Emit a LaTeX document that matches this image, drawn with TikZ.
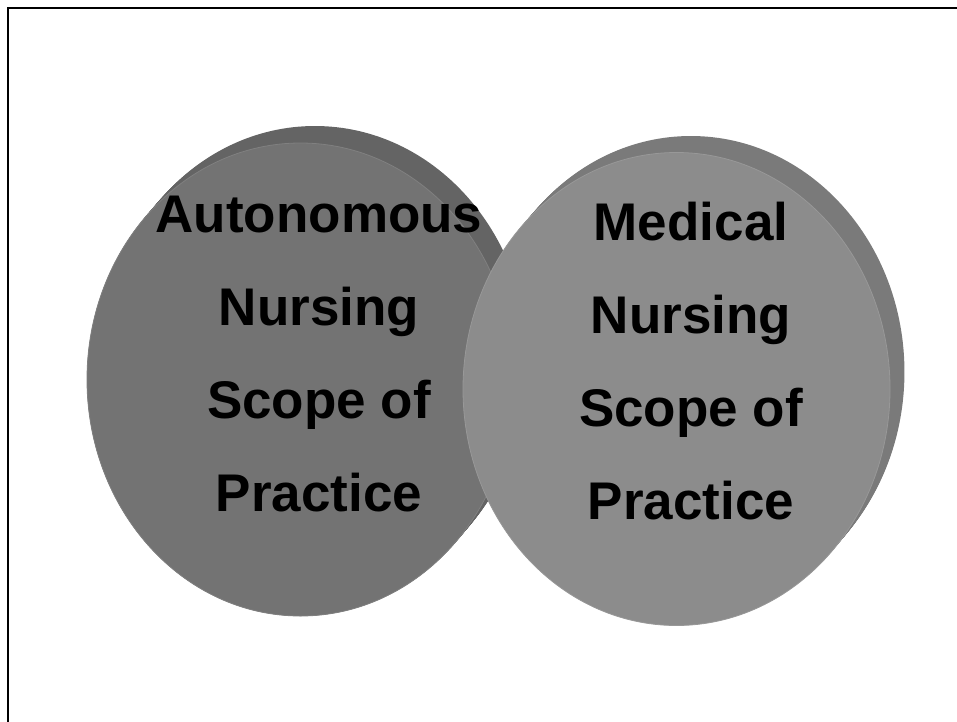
\documentclass[tikz,border=0pt]{standalone}
\usepackage{fontspec}
\setmainfont{Liberation Sans}
\usetikzlibrary{shapes.geometric}
\definecolor{leftface}{HTML}{737373}
\definecolor{leftside}{HTML}{646464}
\definecolor{leftrim}{HTML}{808080}
\definecolor{rightface}{HTML}{8C8C8C}
\definecolor{rightside}{HTML}{7A7A7A}
\definecolor{rightrim}{HTML}{989898}
\begin{document}
\begin{tikzpicture}[x=1pt,y=-1pt,
  face/.style={ellipse,inner sep=0pt,minimum width=427pt,minimum height=473pt,line width=0.8pt},
  txt/.style={align=center,text=black,font=\fontsize{53}{92.7}\selectfont\bfseries}]
\clip (0,0) rectangle (957,721);
\draw[line width=2pt] (8,8) rectangle (990,750);
% left disc
\foreach \k in {0,...,17} \fill[leftside] ({300.5+\k*0.85},{379.5-\k}) ellipse [x radius=213.5,y radius=236.5];
\node[face,fill=leftface,draw=leftrim] (auto) at (300.5,379.5) {};
\node[txt] (autoText) at (319,354) {Autonomous\\Nursing\\Scope of\\Practice};
% right disc
\foreach \k in {0,...,17} \fill[rightside] ({676.5+\k*0.85},{389-\k}) ellipse [x radius=213.5,y radius=236];
\node[face,fill=rightface,draw=rightrim] (med) at (676.5,389) {};
\node[txt] (medText) at (691,361) {Medical\\Nursing\\Scope of\\Practice};
\end{tikzpicture}
\end{document}
